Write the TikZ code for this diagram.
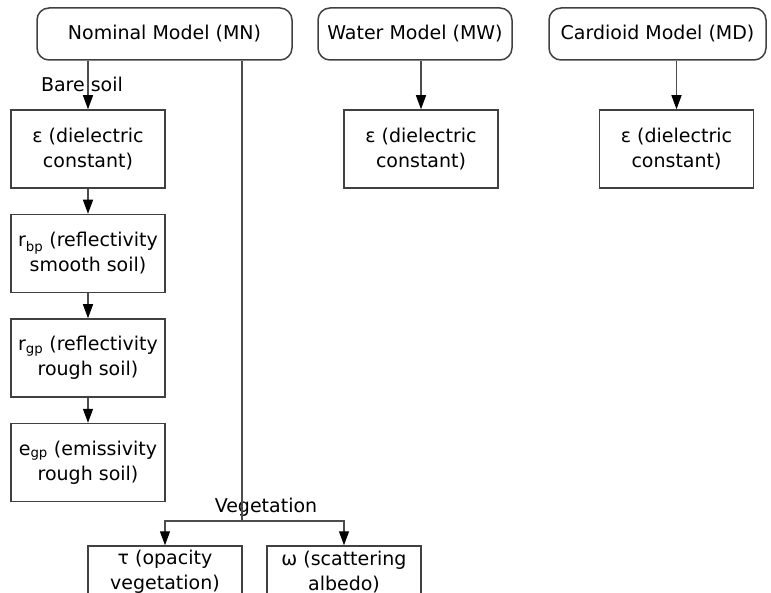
\documentclass[tikz,border=0pt]{standalone}
\usepackage{fontspec}
\setmainfont{DejaVu Sans}
\usetikzlibrary{arrows.meta,positioning}

\begin{document}
\begin{tikzpicture}[x=1pt,y=-1pt,font=\fontsize{19}{25}\selectfont]
  \tikzset{every node/.style={inner sep=0pt,align=center}}
  \tikzstyle{model}=[draw=black!75,line width=1.5pt,rounded corners=12pt,minimum height=52pt]
  \tikzstyle{param}=[draw=black!75,line width=1.5pt,minimum width=154pt,minimum height=78pt]
  \tikzstyle{link}=[black!70,line width=1.3pt]
  \tikzstyle{flow}=[link,-{Triangle[width=10pt,length=14pt,color=black]}]

  \useasboundingbox (0,0) rectangle (771,593);
  \clip (0,0) rectangle (771,593);

  % models
  \node[model,minimum width=255pt] (mn) at (164.5,34) {Nominal Model (MN)};
  \node[model,minimum width=194pt] (mw) at (415,34)   {Water Model (MW)};
  \node[model,minimum width=217pt] (md) at (657.5,34) {Cardioid Model (MD)};

  % bare soil chain
  \node[param] (eps) at (88,149) {ε (dielectric\\constant)};
  \node[param,below=25pt of eps] (rbp) {r\textsubscript{bp} (reflectivity\\smooth soil)};
  \node[param,below=25pt of rbp] (rgp) {r\textsubscript{gp} (reflectivity\\rough soil)};
  \node[param,below=25pt of rgp] (egp) {e\textsubscript{gp} (emissivity\\rough soil)};

  % water and cardioid
  \node[param] (epsw) at (421,149)   {ε (dielectric\\constant)};
  \node[param] (epsd) at (676.5,149) {ε (dielectric\\constant)};

  % vegetation (boxes run off the bottom edge)
  \coordinate (veg) at (242,521);
  \node[param,minimum height=52pt] (tau)   at (165,572) {τ (opacity\\vegetation)};
  \node[param,minimum height=52pt] (omega) at (344,572) {ω (scattering\\albedo)};

  % labels
  \node (bare) at (82,84) {Bare soil};
  \node (vlab) at (266,507) {Vegetation};

  % arrows
  \draw[flow] (eps.north |- mn.south) -- (eps);
  \draw[flow] (eps) -- (rbp);
  \draw[flow] (rbp) -- (rgp);
  \draw[flow] (rgp) -- (egp);
  \draw[link] (veg |- mn.south) -- (veg);
  \draw[flow] (veg) -| (tau);
  \draw[flow] (veg) -| (omega);
  \draw[flow] (epsw.north |- mw.south) -- (epsw);
  \draw[flow] (epsd.north |- md.south) -- (epsd);

\end{tikzpicture}
\end{document}
